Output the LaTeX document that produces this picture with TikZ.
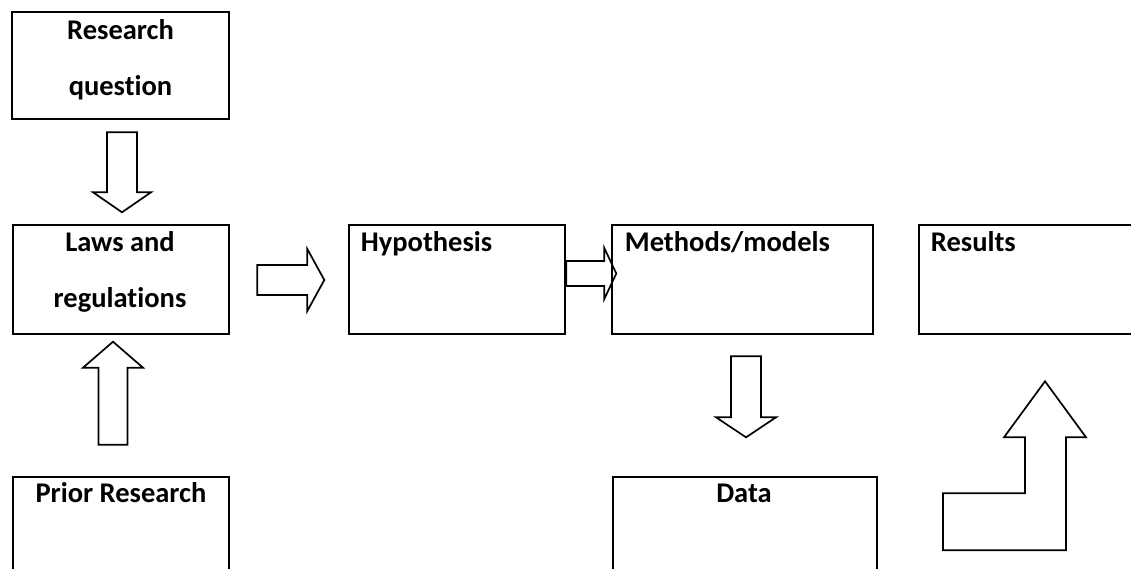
\documentclass[tikz,border=0pt]{standalone}
\usepackage{fontspec}
\setmainfont{Carlito}[Ligatures=NoCommon]
\usetikzlibrary{positioning}

\begin{document}
\begin{tikzpicture}[x=1pt, y=-1pt,
  box/.style={draw, line width=2.6pt, inner sep=0pt, minimum height=109pt},
  lbl/.style={font=\fontsize{28.5}{56}\selectfont\bfseries, inner sep=0pt, align=center},
  blockarrow/.style={draw, line width=1.7pt, line join=miter}]
  \useasboundingbox (0,0) rectangle (1131,569);
  \clip (0,0) rectangle (1131,569);

  % boxes
  \node (rq)    [box, minimum width=217pt, minimum height=107pt] at (120.5,65.5) {};
  \node (laws)  [box, minimum width=216pt] at (121,279.5)   {};
  \node (hyp)   [box, minimum width=216pt] at (457,279.5)   {};
  \node (meth)  [box, minimum width=261pt] at (742.5,279.5) {};
  \node (res)   [box, minimum width=261pt] at (1049.5,279.5) {};
  \node (prior) [box, minimum width=216pt] at (121,531.5)   {};
  \node (data)  [box, minimum width=264pt] at (745,531.5)   {};

  % texts (base = last line)
  \node (rqt)    [lbl, anchor=base]      at ([yshift=-85pt]rq.north)      {Research\\question};
  \node (lawst)  [lbl, anchor=base]      at ([xshift=-1pt,yshift=-84pt]laws.north) {Laws and\\regulations};
  \node (hypt)   [lbl, anchor=base west] at ([xshift=13pt,yshift=-28pt]hyp.north west)  {Hypothesis};
  \node (metht)  [lbl, anchor=base west] at ([xshift=14pt,yshift=-28pt]meth.north west) {Methods/models};
  \node (rest)   [lbl, anchor=base west] at ([xshift=13pt,yshift=-28pt]res.north west)  {Results};
  \node (priort) [lbl, anchor=base]      at ([yshift=-27pt]prior.north)   {Prior Research};
  \node (datat)  [lbl, anchor=base]      at ([xshift=-1pt,yshift=-27pt]data.north) {Data};

  % block arrows
  \draw[blockarrow] ([xshift=-13.5pt,yshift=-12pt]rq.south) -- ++(30,0) -- ++(0,60)
    -- ++(14,0) -- ++(-29,20) -- ++(-29,-20) -- ++(14,0) -- cycle;
  \draw[blockarrow] ([xshift=-22.5pt,yshift=31pt]prior.north) -- ++(29,0) -- ++(0,-77)
    -- ++(15.5,0) -- ++(-30,-26) -- ++(-30,26) -- ++(15.5,0) -- cycle;
  \draw[blockarrow] ([xshift=27pt,yshift=14.5pt]laws.east) -- ++(50,0) -- ++(0,-16)
    -- ++(17,31) -- ++(-17,31) -- ++(0,-16) -- ++(-50,0) -- cycle;
  \draw[blockarrow] ([yshift=18.5pt]hyp.east) -- ++(38,0) -- ++(0,-13)
    -- ++(12,25.5) -- ++(-12,25.5) -- ++(0,-13) -- ++(-38,0) -- cycle;
  \draw[blockarrow] ([xshift=-11.5pt,yshift=-21pt]meth.south) -- ++(30,0) -- ++(0,61)
    -- ++(15,0) -- ++(-30,20) -- ++(-30,-20) -- ++(15,0) -- cycle;
  \draw[blockarrow] ([xshift=-4.5pt,yshift=-46pt]res.south) -- ++(41,56) -- ++(-20,0)
    -- ++(0,113) -- ++(-123,0) -- ++(0,-57) -- ++(82,0) -- ++(0,-56) -- ++(-21,0) -- cycle;
\end{tikzpicture}
\end{document}
